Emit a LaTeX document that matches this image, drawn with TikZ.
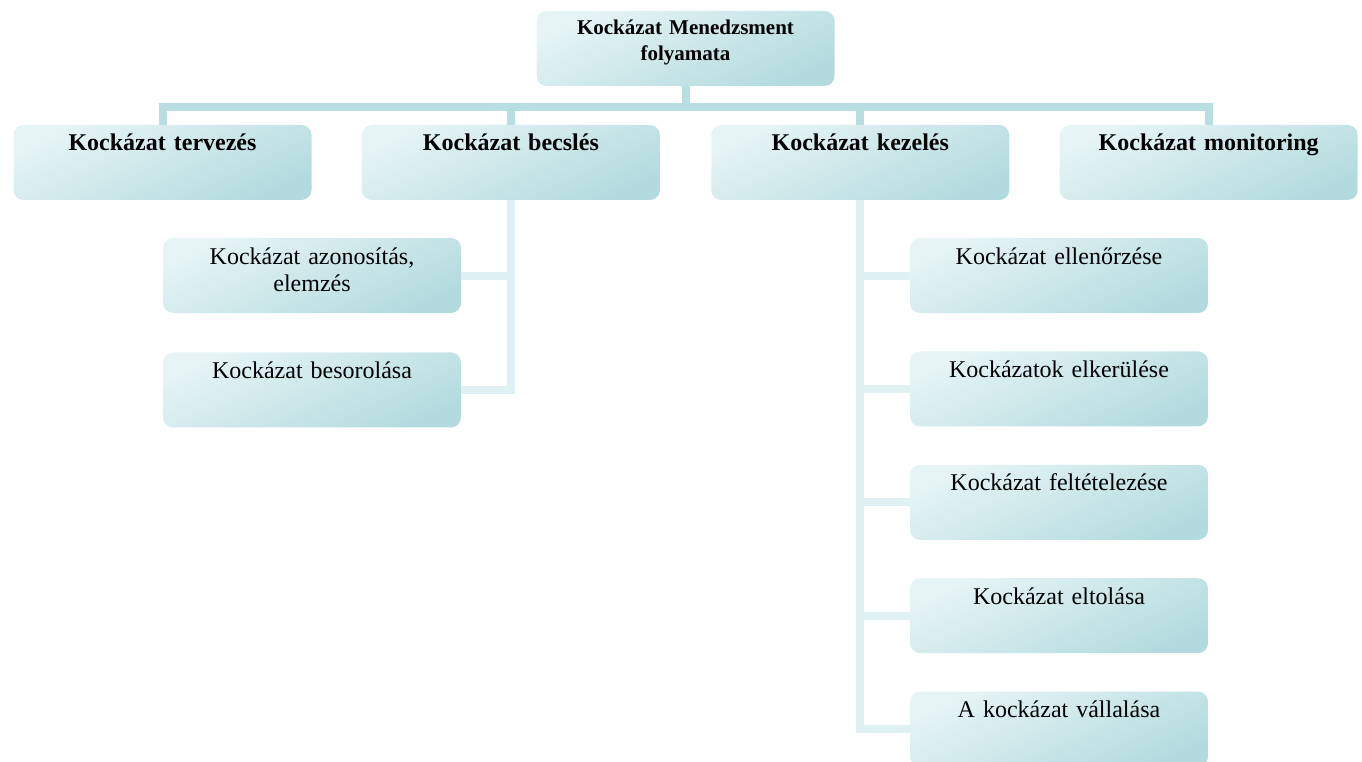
\documentclass[tikz,border=0pt]{standalone}
\usepackage{fontspec}
\setmainfont{Liberation Serif}
\usetikzlibrary{positioning}
\definecolor{boxlight}{HTML}{E6F4F5}
\definecolor{boxdark}{HTML}{B3DBDF}
\definecolor{barcol}{HTML}{B8DEE1}
\definecolor{twigcol}{HTML}{DFF1F2}

\begin{document}
\begin{tikzpicture}[x=1pt,y=-1pt,
	box/.style={rounded corners=10pt, top color=boxlight, bottom color=boxdark, shading angle=25,
		minimum width=298pt, inner sep=0pt, text width=290pt, align=center,
		text height=26pt, text depth=49pt},
	topbox/.style={box, text height=24pt, text depth=51pt, font=\bfseries\fontsize{21}{26}\selectfont},
	mainbox/.style={box, font=\bfseries\fontsize{24}{28}\selectfont},
	subbox/.style={box, font=\fontsize{24}{27.5}\selectfont},
	bar/.style={draw=barcol, line width=8pt},
	twig/.style={draw=twigcol, line width=8pt}]
	\useasboundingbox (0,0) rectangle (1362,762);

	\node[topbox] (fol) at (685.5,48.5) {Kockázat Menedzsment\\folyamata};

	\node[mainbox] (terv) at (162.5,162.5) {Kockázat tervezés};
	\node[mainbox, right=50pt of terv] (becs) {Kockázat becslés};
	\node[mainbox, right=51pt of becs] (kez) {Kockázat kezelés};
	\node[mainbox, right=50pt of kez] (mon) {Kockázat monitoring};

	\node[subbox] (azon) at (312,275.5) {Kockázat azonosítás,\\elemzés};
	\node[subbox, below=39pt of azon] (besor) {Kockázat besorolása};

	\node[subbox] (ell) at (1059,275.5) {Kockázat ellenőrzése};
	\node[subbox, below=38pt of ell] (elker) {Kockázatok elkerülése};
	\node[subbox, below=38pt of elker] (felt) {Kockázat feltételezése};
	\node[subbox, below=38pt of felt] (eltol) {Kockázat eltolása};
	\node[subbox, below=38pt of eltol] (vall) {A kockázat vállalása};

	% main level
	\foreach \n in {terv,becs,kez,mon}
		\draw[bar] (fol.south) -- ++(0,21) -| (\n.north);

	% sub levels
	\foreach \n in {azon,besor}
		\draw[twig] (becs.south) |- (\n.east);
	\foreach \n in {ell,elker,felt,eltol,vall}
		\draw[twig] (kez.south) |- (\n.west);
\end{tikzpicture}
\end{document}
